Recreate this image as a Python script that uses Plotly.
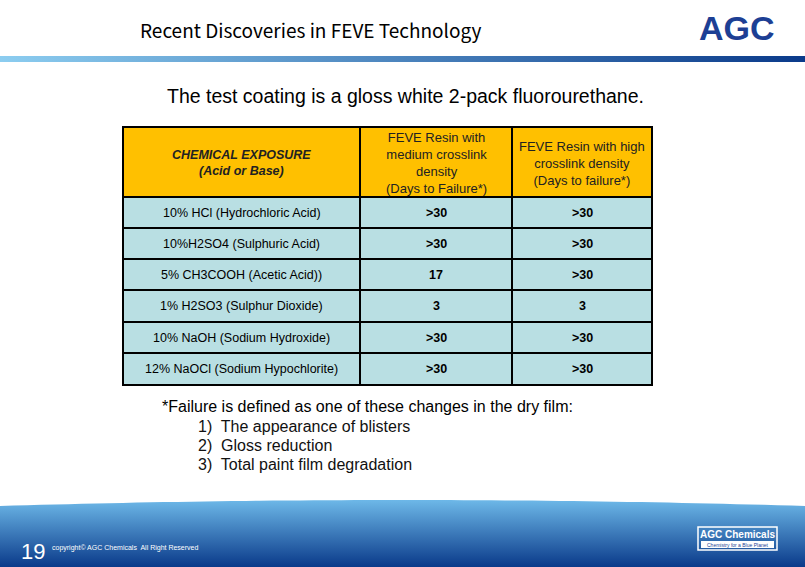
import plotly.graph_objects as go
import numpy as np

W, H = 805, 567
title = "Recent Discoveries in FEVE Technology"
subtitle = "The test coating is a gloss white 2-pack fluorourethane."
headers = ["<b><i>CHEMICAL EXPOSURE<br>(Acid or Base)</i></b>",
           "FEVE Resin with<br>medium crosslink<br>density<br>(Days to Failure*)",
           "FEVE Resin with high<br>crosslink density<br>(Days to failure*)"]
chemicals = ["10% HCl (Hydrochloric Acid)", "10%H2SO4 (Sulphuric Acid)",
             "5% CH3COOH (Acetic Acid))", "1% H2SO3 (Sulphur Dioxide)",
             "10% NaOH (Sodium Hydroxide)", "12% NaOCl (Sodium Hypochlorite)"]
medium = [">30", ">30", "17", "3", ">30", ">30"]
high = [">30", ">30", ">30", "3", ">30", ">30"]
footnote = ["*Failure is defined as one of these changes in the dry film:",
            "1)  The appearance of blisters", "2)  Gloss reduction",
            "3)  Total paint film degradation"]

fig = go.Figure()
xs = np.linspace(0, W, 60)
ys = 500 + 6 * ((xs - W / 2) / (W / 2)) ** 2
bx = list(xs) + [W, 0]
by = list(ys) + [H, H]
fig.add_trace(go.Scatter(x=bx, y=by, fill="toself", mode="none", hoverinfo="skip",
                         fillgradient=dict(type="vertical",
                                           colorscale=[[0, "#0a3a8a"], [1, "#6db8e8"]])))
fig.add_trace(go.Scatter(x=[0, W, W, 0], y=[56, 56, 62, 62], fill="toself", mode="none",
                         hoverinfo="skip",
                         fillgradient=dict(type="horizontal",
                                           colorscale=[[0, "#8ccdf0"], [1, "#0a3a8a"]])))

shapes = []
ann = []
colx = [123, 360, 512, 652]
rowy = [127, 197, 228, 259, 290, 322, 353, 385]
for r in range(len(rowy) - 1):
    for c in range(3):
        shapes.append(dict(type="rect", x0=colx[c], x1=colx[c + 1], y0=rowy[r], y1=rowy[r + 1],
                           fillcolor="#FFC000" if r == 0 else "#B9DFE3",
                           line=dict(color="black", width=2), layer="below"))
cellfont = dict(family="Liberation Sans, Arial", size=12.5, color="black")
for c in range(3):
    ann.append(dict(x=(colx[c] + colx[c + 1]) / 2, y=(rowy[0] + rowy[1]) / 2 + 1, text=headers[c],
                    showarrow=False,
                    font=dict(family="Liberation Sans", size=13 if c else 12.5, color="#222")))
for i, (ch, m, h) in enumerate(zip(chemicals, medium, high)):
    yc = (rowy[i + 1] + rowy[i + 2]) / 2
    ann.append(dict(x=(colx[0] + colx[1]) / 2, y=yc, text=ch, showarrow=False, font=cellfont))
    ann.append(dict(x=(colx[1] + colx[2]) / 2, y=yc, text="<b>" + m + "</b>", showarrow=False, font=cellfont))
    ann.append(dict(x=(colx[2] + colx[3]) / 2, y=yc, text="<b>" + h + "</b>", showarrow=False, font=cellfont))

ann.append(dict(x=138, y=29, text=title, showarrow=False, xanchor="left",
                font=dict(family="Noto Sans CJK JP", size=19, color="black")))
ann.append(dict(x=737, y=28, text="<b>AGC</b>", showarrow=False,
                font=dict(family="Liberation Sans", size=34, color="#1d3f94")))
ann.append(dict(x=405, y=96, text=subtitle, showarrow=False,
                font=dict(family="Liberation Sans", size=19.5, color="black")))
ann.append(dict(x=160, y=406, text=footnote[0], showarrow=False, xanchor="left",
                font=dict(family="Liberation Sans", size=16, color="black")))
for k, t in enumerate(footnote[1:]):
    ann.append(dict(x=196, y=426 + 19 * k, text=t, showarrow=False, xanchor="left",
                    font=dict(family="Liberation Sans", size=16, color="#111")))
ann.append(dict(x=33, y=551, text="19", showarrow=False,
                font=dict(family="Liberation Sans", size=22, color="white")))
ann.append(dict(x=50, y=548, text="copyright© AGC Chemicals  All Right Reserved", showarrow=False,
                xanchor="left", font=dict(family="Liberation Sans", size=7, color="white")))
shapes.append(dict(type="rect", x0=698, x1=777, y0=527, y1=550, line=dict(color="white", width=1.5)))
shapes.append(dict(type="rect", x0=701, x1=774, y0=541, y1=548, fillcolor="white", line=dict(width=0)))
ann.append(dict(x=737, y=534, text="<b>AGC Chemicals</b>", showarrow=False,
                font=dict(family="Liberation Sans", size=10, color="white")))
ann.append(dict(x=737, y=544.5, text="Chemistry for a Blue Planet", showarrow=False,
                font=dict(family="Liberation Sans", size=5, color="#1d3f94")))

fig.update_layout(width=W, height=H, margin=dict(l=0, r=0, t=0, b=0),
                  plot_bgcolor="white", paper_bgcolor="white", showlegend=False,
                  xaxis=dict(range=[0, W], visible=False, fixedrange=True),
                  yaxis=dict(range=[H, 0], visible=False, fixedrange=True),
                  shapes=shapes, annotations=ann)
fig.write_html("out.html", config={"displayModeBar": False},
               post_script="document.body.style.margin='0';document.body.style.overflow='hidden';")
